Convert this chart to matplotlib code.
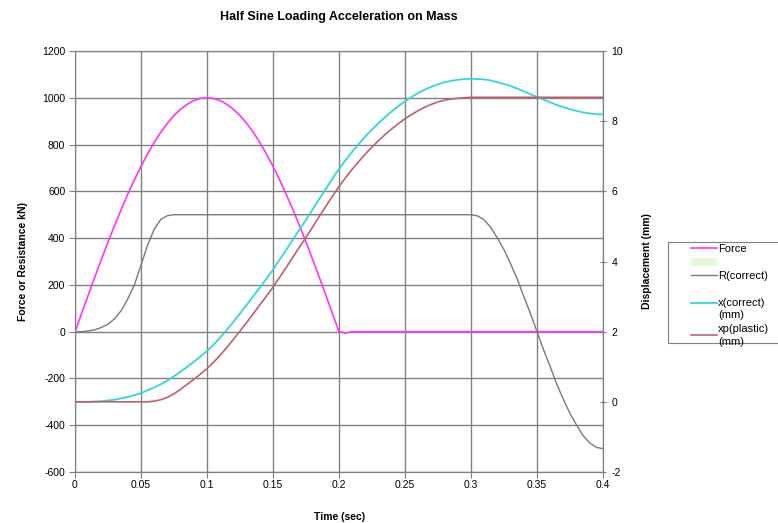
import matplotlib
matplotlib.use("Agg")
import matplotlib.pyplot as plt
from matplotlib.patches import Patch, Rectangle
from matplotlib.lines import Line2D
import numpy as np

plt.rcParams['font.family'] = ['Liberation Sans', 'DejaVu Sans']
plt.rcParams['axes.unicode_minus'] = False

# time samples (sec), every 5 ms
time = np.round(np.arange(81) * 0.005, 3)

# applied force (kN)
force = [0, 78, 156, 233, 309, 383, 454, 522, 588, 649,
         707, 760, 809, 853, 891, 924, 951, 972, 988, 997,
         1000, 997, 988, 972, 951, 924, 891, 853, 809, 760,
         707, 649, 588, 522, 454, 383, 309, 233, 156, 78,
         0, -6] + [0] * 39

# resistance (kN)
resist = ([0, 0, 3, 8, 18, 32, 55, 90, 140, 200,
           285, 370, 438, 480, 496, 500]
          + [500] * 45
          + [495, 478, 445, 400, 350, 290, 225, 150, 78, 0,
             -78, -150, -225, -290, -350, -400, -445, -476, -495, -500])

# displacement (mm)
x_correct = [0.00, 0.00, 0.00, 0.01, 0.02, 0.04, 0.06, 0.10, 0.14, 0.19,
             0.25, 0.33, 0.41, 0.50, 0.61, 0.73, 0.86, 1.00, 1.14, 1.29,
             1.45, 1.63, 1.83, 2.05, 2.28, 2.52, 2.76, 3.01, 3.26, 3.51,
             3.77, 4.05, 4.33, 4.62, 4.91, 5.19, 5.48, 5.78, 6.07, 6.36,
             6.64, 6.89, 7.13, 7.35, 7.57, 7.76, 7.95, 8.12, 8.28, 8.43,
             8.57, 8.69, 8.80, 8.90, 8.98, 9.05, 9.11, 9.15, 9.18, 9.20,
             9.21, 9.20, 9.19, 9.16, 9.11, 9.06, 9.00, 8.93, 8.85, 8.77,
             8.69, 8.61, 8.54, 8.46, 8.40, 8.34, 8.29, 8.25, 8.22, 8.20,
             8.19]

xp_plastic = ([0.00] * 10
              + [0.00, 0.00, 0.02, 0.06, 0.13, 0.23, 0.36, 0.50, 0.64, 0.79,
                 0.95, 1.13, 1.33, 1.55, 1.78, 2.02, 2.26, 2.51, 2.76, 3.01,
                 3.27, 3.55, 3.83, 4.12, 4.41, 4.69, 4.98, 5.28, 5.57, 5.86,
                 6.14, 6.39, 6.63, 6.85, 7.07, 7.26, 7.45, 7.62, 7.78, 7.93,
                 8.07, 8.19, 8.30, 8.40, 8.48, 8.55, 8.60, 8.63, 8.65, 8.67]
              + [8.68] * 21)

x_ticks = [0, 0.05, 0.1, 0.15, 0.2, 0.25, 0.3, 0.35, 0.4]
x_ticklabels = ['0', '0.05', '0.1', '0.15', '0.2', '0.25', '0.3', '0.35', '0.4']
left_ticks = [-600, -400, -200, 0, 200, 400, 600, 800, 1000, 1200]
right_ticks = [-2, 0, 2, 4, 6, 8, 10]

grid_col = '#808080'
c_force = '#ff33ff'
c_resist = '#7a7a7a'
c_x = '#30d8d8'
c_xp = '#c0606c'

fig = plt.figure(figsize=(7.78, 5.23), dpi=100)
ax = fig.add_axes([0.0964, 0.0975, 0.6787, 0.805])
ax2 = ax.twinx()

ax.plot(time, force, color=c_force, lw=1.2, zorder=3)
ax.plot(time, resist, color=c_resist, lw=1.0, zorder=3)
ax2.plot(time, x_correct, color=c_x, lw=1.3, zorder=3)
ax2.plot(time, xp_plastic, color=c_xp, lw=1.2, zorder=3)

ax.set_xlim(0, 0.4)
ax.set_ylim(-600, 1200)
ax2.set_ylim(-2, 10)
ax.set_xticks(x_ticks)
ax.set_xticklabels(x_ticklabels)
ax.set_yticks(left_ticks)
ax2.set_yticks(right_ticks)

ax.grid(True, color=grid_col, lw=1.0)
ax.set_axisbelow(True)
for a in (ax, ax2):
    for s in a.spines.values():
        s.set_color(grid_col)
ax.tick_params(axis='both', labelsize=7.5, color=grid_col, length=4, width=0.8, pad=3)
ax.tick_params(axis='x', pad=2)
ax2.tick_params(axis='y', labelsize=7.5, color=grid_col, length=4, width=0.8,
                direction='inout', pad=4)

fig.text(0.436, 0.967, 'Half Sine Loading Acceleration on Mass', ha='center', va='center',
         fontsize=9, fontweight='bold')
fig.text(0.436, 1 - 517 / 523, 'Time (sec)', ha='center', va='center',
         fontsize=7.5, fontweight='bold')
ax.set_ylabel('Force or Resistance kN)', fontsize=7.5, fontweight='bold', labelpad=10)
ax2.set_ylabel('Displacement (mm)', fontsize=7.5, fontweight='bold', labelpad=14)

# legend box (runs past the right edge, as in the original)
fig.patches.append(Rectangle((668 / 778, 1 - 343 / 523), 0.2, 101 / 523,
                             transform=fig.transFigure, facecolor='white',
                             edgecolor=grid_col, lw=0.8, zorder=0))

handles = [Line2D([], [], color=c_force, lw=1.2),
           Patch(facecolor='#e4f8dc', edgecolor='none'),
           Line2D([], [], color=c_resist, lw=1.0),
           Line2D([], [], color=c_x, lw=1.3),
           Line2D([], [], color=c_xp, lw=1.2)]
labels = ['Force', ' ', 'R(correct)', '\nx(correct)\n(mm)', 'xp(plastic)\n(mm)']
leg = fig.legend(handles, labels, loc='upper left', bbox_to_anchor=(690 / 778, 1 - 243 / 523),
                 fontsize=8, frameon=False, handlelength=2.3,
                 handletextpad=0.15, labelspacing=0.32, borderpad=0.1,
                 borderaxespad=0)
for t in leg.get_texts():
    t.set_linespacing(1.35)

fig.savefig('out.png', dpi=100)
